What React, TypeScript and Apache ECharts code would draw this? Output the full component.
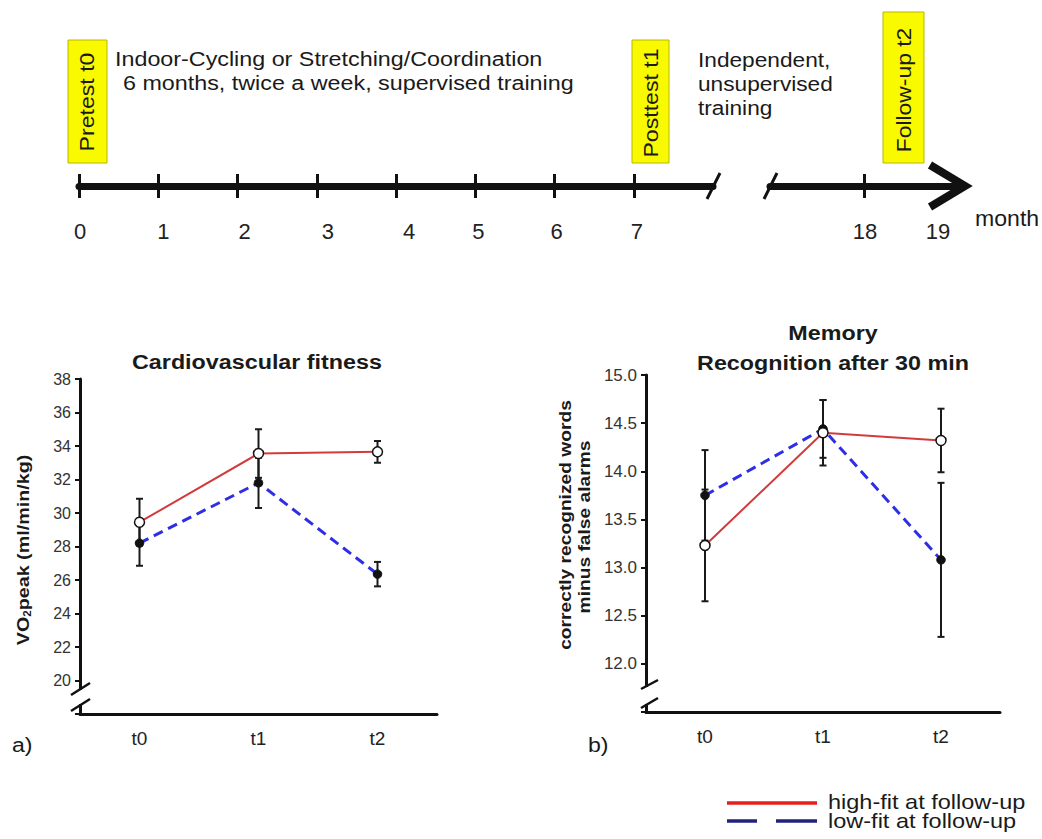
import React, { useEffect, useRef } from "react";
import * as echarts from "echarts";

// ---------------- data ----------------
const timePoints = ["t0", "t1", "t2"];

// Cardiovascular fitness, VO2peak (ml/min/kg)
const vo2HighFit = [29.45, 33.55, 33.65];
const vo2HighFitErr = [1.4, 1.45, 0.65];
const vo2LowFit = [28.2, 31.8, 26.35];
const vo2LowFitErr = [1.35, 1.5, 0.73];

// Memory, recognition after 30 min
const memHighFit = [13.23, 14.4, 14.32];
const memHighFitErr = [0.58, 0.34, 0.33];
const memLowFit = [13.75, 14.44, 13.08];
const memLowFitErr = [0.47, 0.3, 0.8];

// axis ranges
const vo2Min = 18;
const vo2Max = 38;
const vo2Step = 2;
const memMin = 11.5;
const memMax = 15;
const memStep = 0.5;

// study timeline (months)
const supervisedMonths = ["0", "1", "2", "3", "4", "5", "6", "7", ""];
const followUpMonths = ["", "18", "19"];

// ---------------- styling ----------------
const FONT = "'Liberation Sans', Arial, sans-serif";
const INK = "#111";
const RED = "#d23b3b";
const BLUE = "#2e2ee6";
const LEG_RED = "#e3201c";
const LEG_BLUE = "#22227c";
const YELLOW = "#f9f900";
// small horizontal nudges (px) of the hand-placed month labels in the original figure
const supervisedLabelNudge = [1, 5, 7, 11, 13, 3, 2, 3, 0];
const followUpLabelNudge = [0, 1, -20];

function errorSeries(xAxisIndex: number, yAxisIndex: number, values: number[], errs: number[]) {
  return {
    type: "custom",
    xAxisIndex,
    yAxisIndex,
    z: 3,
    data: values.map((v, i) => [i, v, errs[i]]),
    encode: { x: 0, y: 1 },
    renderItem: (_params: any, api: any) => {
      const i = api.value(0);
      const v = api.value(1);
      const e = api.value(2);
      const top = api.coord([i, v + e]);
      const bot = api.coord([i, v - e]);
      const cap = 3.5;
      const style = { stroke: "#1a1a1a", lineWidth: 2 };
      return {
        type: "group",
        children: [
          { type: "line", shape: { x1: top[0], y1: top[1], x2: bot[0], y2: bot[1] }, style },
          { type: "line", shape: { x1: top[0] - cap, y1: top[1], x2: top[0] + cap, y2: top[1] }, style },
          { type: "line", shape: { x1: bot[0] - cap, y1: bot[1], x2: bot[0] + cap, y2: bot[1] }, style },
        ],
      };
    },
  };
}

function lineSeries(xAxisIndex: number, yAxisIndex: number, values: number[], color: string, dashed: boolean) {
  return {
    type: "line",
    xAxisIndex,
    yAxisIndex,
    z: 2,
    data: values,
    symbol: "none",
    showSymbol: false,
    lineStyle: { color, width: dashed ? 3 : 2, type: dashed ? [10, 6] : "solid" },
  };
}

function markerSeries(xAxisIndex: number, yAxisIndex: number, values: number[], open: boolean) {
  return {
    type: "scatter",
    xAxisIndex,
    yAxisIndex,
    z: 5,
    data: values.map((v, i) => [i, v]),
    symbol: "circle",
    symbolSize: open ? 10 : 8.5,
    itemStyle: open
      ? { color: "#ffffff", borderColor: "#111", borderWidth: 1.5, opacity: 1 }
      : { color: "#111", borderColor: "#111", borderWidth: 1, opacity: 1 },
  };
}

function chartXAxis(gridIndex: number) {
  return {
    gridIndex,
    type: "category",
    data: timePoints,
    boundaryGap: true,
    axisLine: { lineStyle: { color: INK, width: 3 } },
    axisTick: { alignWithLabel: true, length: 4, lineStyle: { color: INK, width: 2.5 } },
    axisLabel: { fontSize: 19, color: "#222", fontFamily: FONT, margin: 15 },
    splitLine: { show: false },
  };
}

function chartYAxis(gridIndex: number, min: number, max: number, interval: number, fontSize: number, fmt: (v: number) => string) {
  return {
    gridIndex,
    type: "value",
    min,
    max,
    interval,
    axisLine: { show: true, onZero: false, lineStyle: { color: INK, width: 3 } },
    axisTick: { show: true, length: 5, lineStyle: { color: INK, width: 2 } },
    axisLabel: { fontSize, color: "#333", fontFamily: FONT, margin: 9, formatter: fmt },
    splitLine: { show: false },
  };
}

function timelineXAxis(gridIndex: number, months: string[], nudge: number[], splitAt: (i: number) => boolean) {
  return {
    gridIndex,
    type: "category",
    data: months.map((m, i) => ({
      value: m,
      textStyle: {
        padding: nudge[i] >= 0 ? [0, 0, 0, 2 * nudge[i]] : [0, -2 * nudge[i], 0, 0],
      },
    })),
    boundaryGap: false,
    axisLine: { onZero: true, lineStyle: { color: INK, width: 7 } },
    axisTick: { show: false },
    axisLabel: { fontSize: 22, color: "#222", fontFamily: FONT, margin: 22, interval: 0 },
    splitLine: { show: true, interval: (i: number) => splitAt(i), lineStyle: { color: INK, width: 3 } },
  };
}

function txt(text: string, x: number, y: number, o: any = {}) {
  return {
    type: "text",
    x,
    y,
    z: 100,
    rotation: o.rotation || 0,
    scaleX: o.scaleX || 1,
    style: {
      text,
      fontSize: o.fontSize || 21,
      fontWeight: o.fontWeight || "normal",
      fontFamily: FONT,
      fill: o.fill || "#1a1a1a",
      textAlign: o.align || "left",
      textVerticalAlign: "middle",
      align: o.align || "left",
      verticalAlign: "middle",
      rich: o.rich,
    },
  };
}

function seg(x1: number, y1: number, x2: number, y2: number, stroke: string, lineWidth: number) {
  return {
    type: "line",
    z: 101,
    shape: { x1, y1, x2, y2 },
    style: { stroke, lineWidth },
  };
}

function box(x: number, y: number, w: number, h: number) {
  return {
    type: "rect",
    z: 99,
    shape: { x, y, width: w, height: h },
    style: { fill: YELLOW, stroke: "#b8b800", lineWidth: 1 },
  };
}

const graphics: any[] = [
  // timeline boxes and texts
  box(68, 40, 39, 123),
  box(632, 40, 37, 123),
  box(883, 12, 41, 151),
  txt("Pretest t0", 87, 102, { rotation: Math.PI / 2, align: "center", scaleX: 1.1 }),
  txt("Posttest t1", 651, 103, { rotation: Math.PI / 2, align: "center", scaleX: 1.1 }),
  txt("Follow-up t2", 904, 90, { rotation: Math.PI / 2, align: "center", scaleX: 1.09 }),
  txt("Indoor-Cycling or Stretching/Coordination", 115, 59, { scaleX: 1.11 }),
  txt("6 months, twice a week, supervised training", 123, 83, { scaleX: 1.11 }),
  txt("Independent,", 698, 60, { scaleX: 1.08 }),
  txt("unsupervised", 698, 84, { scaleX: 1.08 }),
  txt("training", 698, 108, { scaleX: 1.08 }),
  txt("month", 975, 219, { fontSize: 22, scaleX: 1.05 }),
  // timeline break and arrow head
  seg(707, 199, 720, 173, INK, 3),
  seg(764, 199, 777, 173, INK, 3),
  {
    type: "polyline",
    z: 101,
    shape: { points: [[930, 165], [965, 186], [930, 207]] },
    style: { stroke: INK, lineWidth: 8, fill: "none", lineJoin: "miter" },
  },
  // chart titles
  txt("Cardiovascular fitness", 257, 362, { fontWeight: "bold", align: "center", scaleX: 1.11 }),
  txt("Memory", 833, 333, { fontWeight: "bold", align: "center", scaleX: 1.11 }),
  txt("Recognition after 30 min", 833, 363, { fontWeight: "bold", align: "center", scaleX: 1.11 }),
  // y axis names
  txt("{a|VO}{s|2}{a|peak (ml/min/kg)}", 23, 550, {
    rotation: Math.PI / 2,
    align: "center",
    scaleX: 1.16,
    fontWeight: "bold",
    fontSize: 17,
    rich: {
      a: { fontSize: 17, fontWeight: "bold", fontFamily: FONT, fill: "#1a1a1a" },
      s: { fontSize: 10, fontWeight: "bold", fontFamily: FONT, fill: "#1a1a1a", padding: [8, 0, 0, 0] },
    },
  }),
  txt("correctly recognized words", 565, 525, { rotation: Math.PI / 2, align: "center", scaleX: 1.13, fontWeight: "bold", fontSize: 17 }),
  txt("minus false alarms", 584, 527, { rotation: Math.PI / 2, align: "center", scaleX: 1.13, fontWeight: "bold", fontSize: 17 }),
  // y axis breaks
  { type: "rect", z: 100, shape: { x: 76, y: 690, width: 8, height: 14 }, style: { fill: "#fff" } },
  seg(71, 695, 90, 683, INK, 2.5),
  seg(71, 711, 90, 699, INK, 2.5),
  { type: "rect", z: 100, shape: { x: 642, y: 687, width: 8, height: 17 }, style: { fill: "#fff" } },
  seg(641, 689, 658, 680, INK, 2.5),
  seg(641, 708, 658, 698, INK, 2.5),
  // panel labels
  txt("a)", 12, 745, { scaleX: 1.1 }),
  txt("b)", 588, 745, { scaleX: 1.1 }),
  // legend
  seg(727, 803, 817, 803, LEG_RED, 3.5),
  seg(727, 821, 757, 821, LEG_BLUE, 3.5),
  seg(776, 821, 817, 821, LEG_BLUE, 3.5),
  txt("high-fit at follow-up", 828, 802, { scaleX: 1.12 }),
  txt("low-fit at follow-up", 828, 821, { scaleX: 1.12 }),
];

const option: any = {
  animation: false,
  backgroundColor: "#ffffff",
  grid: [
    { left: 80, top: 379, width: 357, height: 335 },
    { left: 646, top: 375, width: 354, height: 337 },
    { left: 79, top: 174, width: 634, height: 24 },
    { left: 770, top: 174, width: 188, height: 24 },
  ],
  xAxis: [
    chartXAxis(0),
    chartXAxis(1),
    timelineXAxis(2, supervisedMonths, supervisedLabelNudge, (i) => i <= 7),
    timelineXAxis(3, followUpMonths, followUpLabelNudge, (i) => i === 1),
  ],
  yAxis: [
    chartYAxis(0, vo2Min, vo2Max, vo2Step, 16, (v: number) => (v === vo2Min ? "" : String(v))),
    chartYAxis(1, memMin, memMax, memStep, 17, (v: number) => (v === memMin ? "" : v.toFixed(1))),
    { gridIndex: 2, type: "value", min: -1, max: 1, show: false },
    { gridIndex: 3, type: "value", min: -1, max: 1, show: false },
  ],
  series: [
    lineSeries(0, 0, vo2LowFit, BLUE, true),
    lineSeries(0, 0, vo2HighFit, RED, false),
    errorSeries(0, 0, vo2HighFit, vo2HighFitErr),
    errorSeries(0, 0, vo2LowFit, vo2LowFitErr),
    markerSeries(0, 0, vo2LowFit, false),
    markerSeries(0, 0, vo2HighFit, true),

    lineSeries(1, 1, memLowFit, BLUE, true),
    lineSeries(1, 1, memHighFit, RED, false),
    errorSeries(1, 1, memHighFit, memHighFitErr),
    errorSeries(1, 1, memLowFit, memLowFitErr),
    markerSeries(1, 1, memLowFit, false),
    markerSeries(1, 1, memHighFit, true),
  ],
  graphic: graphics,
};

export default function App() {
  const ref = useRef<HTMLDivElement>(null);
  useEffect(() => {
    if (!ref.current) return;
    const chart = echarts.init(ref.current, undefined, { renderer: "svg" });
    chart.setOption(option);
    return () => chart.dispose();
  }, []);
  return (
    <div
      ref={ref}
      style={{ position: "absolute", left: 0, top: 0, width: 1042, height: 839, background: "#fff" }}
    />
  );
}
